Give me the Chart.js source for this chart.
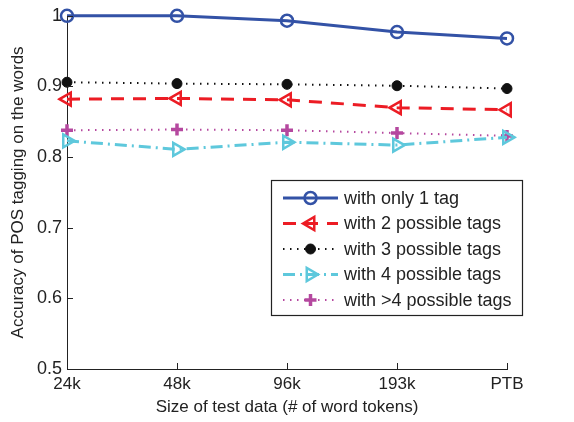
<!DOCTYPE html>
<html>
<head>
<meta charset="utf-8">
<script src="https://cdn.jsdelivr.net/npm/chart.js@4.4.0/dist/chart.umd.min.js"></script>
<style>
html,body{margin:0;padding:0;background:#fff;}
#wrap{width:574px;height:422px;}
</style>
</head>
<body>
<div id="wrap"><canvas id="c" width="574" height="422"></canvas></div>
<script>
const categories = ["24k", "48k", "96k", "193k", "PTB"];
const seriesNames = ["with only 1 tag", "with 2 possible tags", "with 3 possible tags", "with 4 possible tags", "with >4 possible tags"];
const only1Tag = [1.000, 1.000, 0.993, 0.977, 0.968];
const possible2Tags = [0.882, 0.883, 0.881, 0.870, 0.867];
const possible3Tags = [0.906, 0.904, 0.903, 0.901, 0.897];
const possible4Tags = [0.823, 0.811, 0.821, 0.817, 0.828];
const possibleMore4Tags = [0.838, 0.839, 0.838, 0.834, 0.830];
const yTickLabels = ["0.5", "0.6", "0.7", "0.8", "0.9", "1"];
const xTitle = "Size of test data (# of word tokens)";
const yTitle = "Accuracy of POS tagging on the words";

const FONT = "'Liberation Sans', Arial, sans-serif";
const TXT = "#222";

const datasets = [
  {label: seriesNames[0], data: only1Tag, borderColor: "#3352a6", backgroundColor: "rgba(0,0,0,0)",
   borderWidth: 3, borderDash: [], pointStyle: "circle", pointRadius: 6, pointBorderWidth: 2.5, pointRotation: 0,
   pointBackgroundColor: "rgba(255,255,255,0)"},
  {label: seriesNames[1], data: possible2Tags, borderColor: "#ec1c24", backgroundColor: "rgba(0,0,0,0)",
   borderWidth: 3, borderDash: [13, 9], pointStyle: "triangle", pointRadius: 7.5, pointBorderWidth: 2.5, pointRotation: -90,
   pointBackgroundColor: "rgba(255,255,255,0)"},
  {label: seriesNames[2], data: possible3Tags, borderColor: "#111", backgroundColor: "#111",
   borderWidth: 2, borderDash: [1.5, 5.5], pointStyle: "circle", pointRadius: 5, pointBorderWidth: 1, pointRotation: 0,
   pointBackgroundColor: "#111"},
  {label: seriesNames[3], data: possible4Tags, borderColor: "#5ec8dc", backgroundColor: "rgba(0,0,0,0)",
   borderWidth: 3, borderDash: [12, 5, 2, 5], pointStyle: "triangle", pointRadius: 7.5, pointBorderWidth: 2.5, pointRotation: 90,
   pointBackgroundColor: "rgba(255,255,255,0)"},
  {label: seriesNames[4], data: possibleMore4Tags, borderColor: "#b5489f", backgroundColor: "#b5489f",
   borderWidth: 2, borderDash: [1.5, 5.5], pointStyle: "cross", pointRadius: 6, pointBorderWidth: 3.5, pointRotation: 0,
   pointBackgroundColor: "#b5489f"}
].map(d => Object.assign(d, {pointBorderColor: d.borderColor, fill: false, tension: 0, clip: false}));

const inwardTicks = {
  id: "inwardTicks",
  afterDatasetsDraw(chart) {
    const ctx = chart.ctx, a = chart.chartArea;
    const xs = chart.scales.x, ys = chart.scales.y;
    ctx.save();
    ctx.strokeStyle = "#222"; ctx.lineWidth = 1;
    ctx.beginPath();
    xs.ticks.forEach((t, i) => {
      const x = Math.round(xs.getPixelForTick(i)) + 0.5;
      ctx.moveTo(x, a.bottom); ctx.lineTo(x, a.bottom - 6);
    });
    ys.ticks.forEach((t, i) => {
      const y = Math.round(ys.getPixelForTick(i)) + 0.5;
      ctx.moveTo(a.left, y); ctx.lineTo(a.left + 6, y);
    });
    ctx.stroke();
    ctx.restore();
  }
};

const boxLegend = {
  id: "boxLegend",
  afterDraw(chart) {
    const ctx = chart.ctx;
    const bx = 271.5, by = 180.5, bw = 251, bh = 135;
    ctx.save();
    ctx.fillStyle = "#fff";
    ctx.fillRect(bx, by, bw, bh);
    ctx.strokeStyle = "#222"; ctx.lineWidth = 1.2;
    ctx.strokeRect(bx, by, bw, bh);
    chart.data.datasets.forEach((d, i) => {
      const y = 198 + i * 25.5;
      ctx.save();
      ctx.strokeStyle = d.borderColor;
      ctx.lineWidth = d.borderWidth;
      ctx.setLineDash(d.borderDash || []);
      ctx.beginPath(); ctx.moveTo(283, y); ctx.lineTo(338, y); ctx.stroke();
      ctx.setLineDash([]);
      ctx.strokeStyle = d.pointBorderColor;
      ctx.fillStyle = d.pointBackgroundColor;
      ctx.lineWidth = d.pointBorderWidth;
      Chart.helpers.drawPoint(ctx, {pointStyle: d.pointStyle, rotation: d.pointRotation, radius: d.pointRadius, borderWidth: d.pointBorderWidth}, 310.5, y);
      ctx.restore();
      ctx.fillStyle = TXT;
      ctx.font = "18px " + FONT;
      ctx.textBaseline = "middle";
      ctx.textAlign = "left";
      ctx.fillText(d.label, 344, y + 1);
    });
    ctx.restore();
  }
};

new Chart(document.getElementById("c"), {
  type: "line",
  data: {labels: categories, datasets: datasets},
  options: {
    responsive: false,
    animation: false,
    devicePixelRatio: 1,
    layout: {padding: {left: 0, right: 67, top: 14, bottom: 0}},
    plugins: {legend: {display: false}, tooltip: {enabled: false}},
    elements: {point: {hoverRadius: 6}},
    scales: {
      x: {
        type: "category",
        offset: false,
        grid: {display: true, drawOnChartArea: false, drawTicks: false},
        border: {display: true, color: "#222", width: 1},
        ticks: {color: TXT, font: {family: FONT, size: 17}, padding: 5, maxRotation: 0, autoSkip: false},
        title: {display: true, text: xTitle, color: TXT, font: {family: FONT, size: 17}, padding: {top: 0, bottom: 4}},
        afterFit(s) { s.height = 53; }
      },
      y: {
        min: 0.5, max: 1,
        grid: {display: true, drawOnChartArea: false, drawTicks: false},
        border: {display: true, color: "#222", width: 1},
        ticks: {
          stepSize: 0.1, color: TXT, font: {family: FONT, size: 18}, padding: 5,
          callback: (v, i) => yTickLabels[i]
        },
        title: {display: true, text: yTitle, color: TXT, font: {family: FONT, size: 17}, padding: {top: 8, bottom: 0}},
        afterFit(s) { s.width = 67; }
      }
    }
  },
  plugins: [inwardTicks, boxLegend]
});
</script>
</body>
</html>
